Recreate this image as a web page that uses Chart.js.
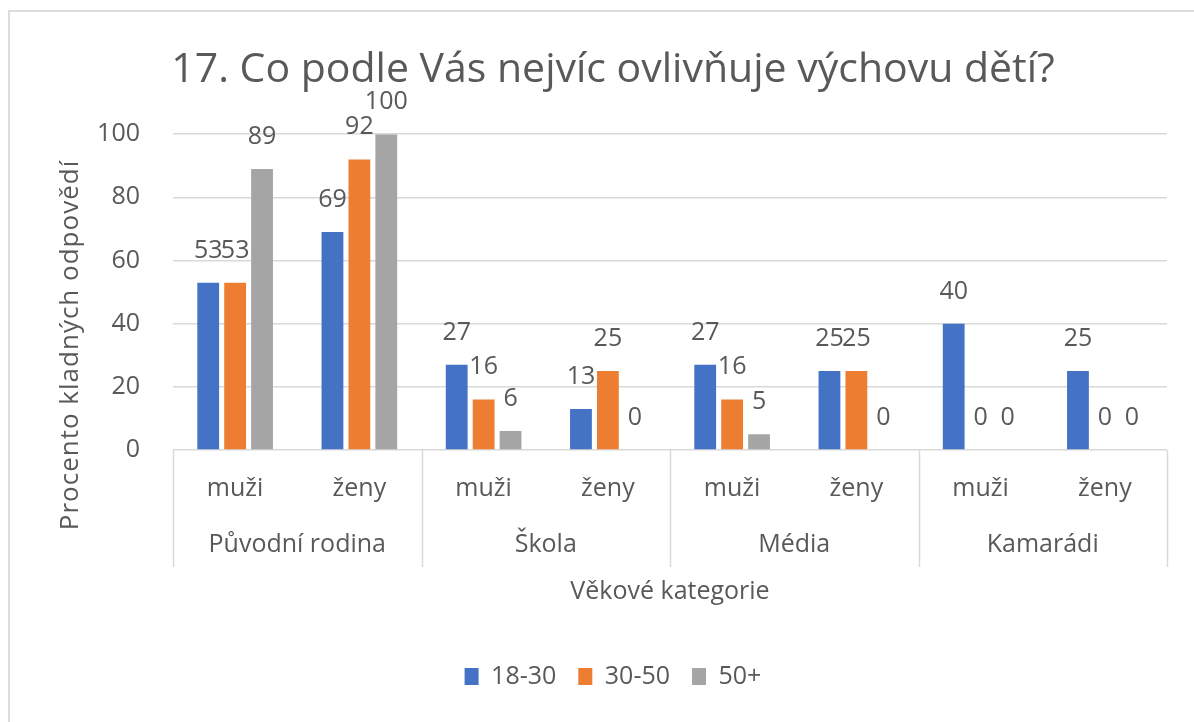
<!DOCTYPE html>
<html>
<head>
<meta charset="utf-8">
<script src="https://cdn.jsdelivr.net/npm/chart.js@4/dist/chart.umd.min.js"></script>
<style>
  body { margin: 0; background: #fff; }
  .frame { position: absolute; left: 8px; top: 10px; width: 1300px; height: 800px; border: 2px solid #dcdcdc; }
  .wrap { position: absolute; left: 0; top: 0; width: 1194px; height: 722px; }
</style>
</head>
<body>
<div class="frame"></div>
<div class="wrap"><canvas id="chart"></canvas></div>
<script>
const groups = ['Původní rodina', 'Škola', 'Média', 'Kamarádi'];
const subLabels = ['muži', 'ženy'];
const series = ['18-30', '30-50', '50+'];
const age1830 = [53, 69, 27, 13, 27, 25, 40, 25];
const age3050 = [53, 92, 16, 25, 16, 25, 0, 0];
const age50 = [89, 100, 6, 0, 5, 0, 0, 0];
const yTicks = [0, 20, 40, 60, 80, 100];

const colors = ['#4472C4', '#ED7D31', '#A5A5A5'];
const textColor = '#595959';
const lineColor = '#d9d9d9';
const fontFamily = '"Open Sans", "DejaVu Sans", sans-serif';
const fontSize = 25;

const labels = [];
groups.forEach(() => subLabels.forEach(s => labels.push(s)));

// value labels above the bars
const valueLabels = {
  id: 'valueLabels',
  afterDatasetsDraw(chart) {
    const ctx = chart.ctx;
    ctx.save();
    ctx.font = fontSize + 'px ' + fontFamily;
    ctx.fillStyle = textColor;
    ctx.textAlign = 'center';
    ctx.textBaseline = 'alphabetic';
    chart.data.datasets.forEach((ds, i) => {
      chart.getDatasetMeta(i).data.forEach((bar, j) => {
        ctx.fillText(String(ds.data[j]), bar.x, bar.y - 25);
      });
    });
    ctx.restore();
  }
};

// group labels, separators and y axis title
const groupAxis = {
  id: 'groupAxis',
  afterDraw(chart) {
    const { ctx, chartArea } = chart;
    const step = (chartArea.right - chartArea.left) / labels.length;
    const bottom = chartArea.bottom;
    ctx.save();
    ctx.strokeStyle = lineColor;
    ctx.lineWidth = 1.5;
    for (let g = 0; g <= groups.length; g++) {
      const xp = Math.round(chartArea.left + g * step * subLabels.length) + 0.5;
      ctx.beginPath();
      ctx.moveTo(xp, bottom);
      ctx.lineTo(xp, bottom + 117);
      ctx.stroke();
    }
    ctx.font = fontSize + 'px ' + fontFamily;
    ctx.fillStyle = textColor;
    ctx.textAlign = 'center';
    ctx.textBaseline = 'middle';
    groups.forEach((g, i) => {
      const cx = chartArea.left + (i + 0.5) * step * subLabels.length;
      ctx.fillText(g, cx, bottom + 95);
    });
    ctx.font = '26px ' + fontFamily;
    ctx.letterSpacing = '1px';
    ctx.translate(71, 345);
    ctx.rotate(-Math.PI / 2);
    ctx.fillText('Procento kladných odpovědí', 0, 0);
    ctx.restore();
  }
};

new Chart(document.getElementById('chart'), {
  type: 'bar',
  data: {
    labels: labels,
    datasets: [
      { label: series[0], data: age1830, backgroundColor: colors[0] },
      { label: series[1], data: age3050, backgroundColor: colors[1] },
      { label: series[2], data: age50, backgroundColor: colors[2] },
    ],
  },
  options: {
    responsive: true,
    maintainAspectRatio: false,
    animation: false,
    categoryPercentage: 0.65,
    barPercentage: 0.81,
    layout: { padding: { left: 59, right: 27, top: 0, bottom: 23 } },
    plugins: {
      title: {
        display: true,
        text: '17. Co podle Vás nejvíc ovlivňuje výchovu dětí?',
        color: textColor,
        font: { family: fontFamily, size: 41, weight: 'normal' },
        padding: { top: 46, bottom: 39 },
      },
      legend: {
        position: 'bottom',
        labels: {
          color: textColor,
          font: { family: fontFamily, size: fontSize },
          boxWidth: 14,
          boxHeight: 17,
          padding: 22,
        },
      },
      tooltip: { enabled: false },
    },
    scales: {
      x: {
        grid: { display: false, drawTicks: false },
        border: { display: false },
        ticks: { color: textColor, font: { family: fontFamily, size: fontSize }, padding: 24, maxRotation: 0 },
        title: {
          display: true,
          text: 'Věkové kategorie',
          color: textColor,
          font: { family: fontFamily, size: fontSize },
          padding: { top: 49, bottom: 35 },
        },
      },
      y: {
        min: 0,
        max: 100,
        afterFit(scale) { scale.width = 114; },
        afterBuildTicks(scale) { scale.ticks = yTicks.map(v => ({ value: v })); },
        grid: { color: lineColor, lineWidth: 1.5, drawTicks: false },
        border: { display: false },
        ticks: { color: textColor, font: { family: fontFamily, size: fontSize }, padding: 33 },
      },
    },
  },
  plugins: [valueLabels, groupAxis],
});
</script>
</body>
</html>
